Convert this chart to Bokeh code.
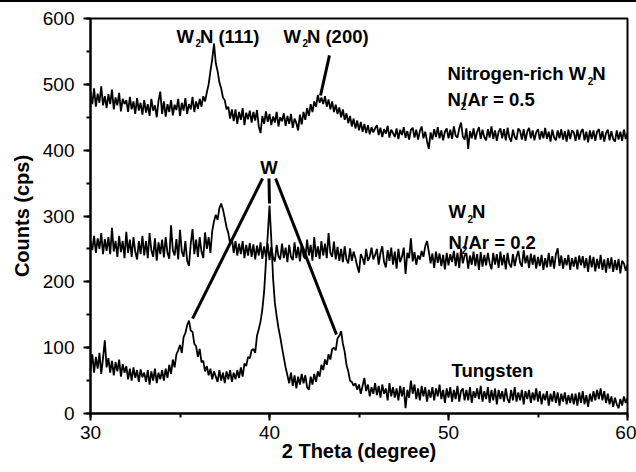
from bokeh.plotting import figure
from bokeh.models import SingleIntervalTicker, Range1d, Div
from bokeh.layouts import column
from bokeh.embed import file_html
from bokeh.resources import INLINE
from bokeh.core.properties import value

# ---------------- data (step 0.1 degree) ----------------
two_theta = [round(30.0 + i * 0.1, 1) for i in range(301)]

nitrogen_rich_w2n = [
    488, 470, 494, 466, 486, 472, 497, 468, 482, 464,
    485, 470, 492, 462, 480, 468, 487, 459, 478, 470,
    476, 458, 481, 462, 474, 455, 479, 460, 472, 454,
    476, 457, 470, 452, 478, 460, 468, 450, 475, 489,
    455, 474, 451, 470, 458, 476, 453, 469, 461, 478,
    452, 472, 460, 479, 455, 470, 462, 481, 458, 474,
    463, 478, 466, 482, 474, 488, 500, 520, 538, 562,
    532, 520, 503, 494, 480, 476, 462, 466, 448, 462,
    444, 462, 440, 458, 446, 464, 438, 457, 447, 460,
    442, 458, 445, 461, 436, 426, 452, 440, 459, 443,
    455, 438, 451, 442, 458, 436, 450, 444, 456, 437,
    452, 440, 455, 434, 448, 441, 430, 454, 439, 458,
    446, 464, 452, 470, 458, 474, 466, 484, 472, 480,
    470, 482, 466, 477, 462, 474, 458, 469, 455, 465,
    450, 462, 446, 456, 441, 452, 436, 448, 433, 445,
    430, 443, 428, 440, 426, 438, 424, 435, 427, 433,
    438, 423, 434, 420, 432, 425, 437, 419, 431, 426,
    420, 433, 417, 431, 423, 435, 419, 429, 416, 431,
    434, 419, 431, 416, 429, 436, 418, 428, 414, 402,
    427, 416, 432, 420, 435, 418, 430, 415, 428, 433,
    418, 431, 417, 436, 422, 419, 433, 442, 421, 416,
    433, 402, 429, 418, 433, 416, 428, 435, 417, 431,
    420, 415, 432, 419, 436, 417, 430, 414, 428, 433,
    418, 432, 415, 434, 419, 413, 431, 420, 416, 433,
    429, 416, 432, 414, 428, 434, 418, 430, 415, 427,
    432, 416, 429, 418, 434, 417, 428, 413, 431, 419,
    415, 430, 418, 432, 416, 429, 413, 431, 417, 430,
    427, 414, 431, 416, 428, 432, 415, 428, 412, 430,
    417, 430, 414, 428, 432, 416, 429, 413, 426, 431,
    415, 429, 417, 413, 430, 416, 428, 414, 431, 417,
    426,
]

w2n = [
    262, 248, 270, 244, 266, 250, 274, 242, 265, 247,
    268, 242, 282, 246, 262, 238, 270, 245, 262, 236,
    276, 244, 264, 238, 268, 246, 234, 262, 242, 270,
    240, 262, 236, 274, 248, 238, 266, 232, 260, 242,
    264, 237, 268, 244, 235, 286, 248, 240, 265, 234,
    279, 246, 238, 262, 232, 224, 258, 280, 242, 264,
    238, 268, 246, 236, 275, 250, 268, 244, 277, 292,
    302, 294, 312, 319, 310, 297, 283, 274, 258, 266,
    244, 262, 240, 258, 242, 262, 236, 256, 240, 259,
    238, 257, 234, 255, 240, 260, 235, 254, 238, 258,
    233, 253, 237, 231, 256, 239, 234, 258, 236, 252,
    230, 256, 238, 233, 260, 236, 253, 231, 258, 239,
    235, 264, 240, 256, 232, 268, 238, 254, 235, 262,
    240, 258, 236, 274, 244, 238, 261, 234, 253, 232,
    250, 230, 254, 234, 228, 251, 232, 246, 236, 224,
    214, 242, 236, 226, 250, 232, 238, 252, 234, 241,
    250, 226, 244, 254, 230, 222, 248, 232, 252, 226,
    246, 220, 250, 230, 238, 252, 212, 244, 236, 266,
    231, 245, 226, 240, 234, 247, 238, 254, 262, 246,
    228, 243, 221, 246, 229, 243, 224, 241, 219, 244,
    225, 242, 230, 247, 224, 244, 221, 250, 228, 240,
    243, 220, 240, 226, 246, 224, 242, 218, 245, 223,
    241, 225, 244, 228, 219, 244, 226, 242, 221, 246,
    225, 241, 219, 244, 227, 222, 242, 224, 238, 247,
    229, 223, 248, 228, 240, 221, 243, 226, 241, 220,
    238, 224, 241, 218, 236, 222, 244, 223, 239, 220,
    242, 251, 224, 240, 220, 236, 225, 241, 218, 236,
    223, 238, 219, 240, 225, 239, 221, 236, 215, 240,
    222, 238, 216, 235, 220, 241, 218, 234, 214, 236,
    220, 237, 215, 233, 218, 235, 213, 232, 228, 217,
    226,
]

tungsten = [
    66, 90, 62, 86, 68, 92, 60, 84, 111, 70,
    84, 62, 80, 58, 78, 64, 82, 56, 75, 62,
    72, 52, 68, 50, 70, 54, 66, 48, 67, 55,
    62, 48, 66, 44, 64, 50, 68, 46, 62, 52,
    66, 50, 68, 54, 74, 60, 82, 70, 90, 96,
    104, 92, 116, 122, 134, 141, 126, 124, 106, 102,
    86, 98, 78, 80, 64, 72, 58, 68, 52, 64,
    56, 48, 66, 50, 62, 46, 64, 52, 66, 48,
    62, 52, 66, 54, 70, 56, 76, 72, 86, 84,
    96, 98, 92, 118, 128, 140, 158, 185, 230, 270,
    316, 265, 205, 168, 148, 130, 116, 100, 85, 70,
    58, 46, 62, 42, 58, 38, 56, 44, 60, 46,
    58, 40, 36, 56, 44, 60, 48, 64, 56, 74,
    66, 82, 74, 90, 82, 98, 100, 96, 114, 118,
    125, 106, 94, 74, 64, 50, 48, 42, 46, 36,
    44, 30, 42, 54, 34, 44, 26, 40, 30, 46,
    28, 42, 24, 44, 30, 38, 20, 46, 26, 40,
    24, 38, 20, 42, 26, 40, 8, 36, 24, 50,
    30, 44, 22, 38, 20, 42, 26, 40, 18, 36,
    24, 40, 20, 38, 26, 44, 22, 36, 16, 38,
    24, 40, 18, 36, 22, 42, 18, 34, 38, 20,
    36, 20, 40, 16, 34, 24, 38, 22, 42, 18,
    34, 22, 40, 16, 36, 20, 38, 14, 36, 22,
    34, 18, 38, 22, 16, 36, 20, 40, 18, 32,
    20, 36, 14, 34, 22, 36, 16, 32, 20, 38,
    18, 34, 14, 30, 20, 34, 12, 30, 18, 34,
    16, 32, 12, 30, 18, 32, 14, 28, 16, 30,
    14, 30, 12, 32, 16, 34, 14, 28, 10, 30,
    18, 34, 20, 36, 22, 38, 20, 34, 16, 30,
    14, 26, 10, 24, 14, 8, 22, 12, 26, 16,
    24,
]

x_ticks_interval = 10
y_ticks_interval = 100

# ---------------- figure ----------------
FONT = "Liberation Sans"

p = figure(width=636, height=470, x_range=Range1d(30, 60), y_range=Range1d(0, 600),
           output_backend="svg", toolbar_location=None,
           min_border_left=90, min_border_right=9, min_border_top=16, min_border_bottom=59)
p.grid.visible = False
p.background_fill_color = "white"
p.border_fill_color = "white"
p.outline_line_color = "black"
p.outline_line_width = 2

p.xaxis.ticker = SingleIntervalTicker(interval=x_ticks_interval, num_minor_ticks=2)
p.yaxis.ticker = SingleIntervalTicker(interval=y_ticks_interval, num_minor_ticks=2)
p.xaxis.axis_label = "2 Theta (degree)"
p.yaxis.axis_label = "Counts (cps)"

for ax in (p.xaxis[0], p.yaxis[0]):
    ax.axis_line_width = 2
    ax.axis_line_color = "black"
    ax.major_tick_line_width = 2
    ax.minor_tick_line_width = 2
    ax.major_tick_line_color = "black"
    ax.minor_tick_line_color = "black"
    ax.major_tick_out = 7
    ax.major_tick_in = 0
    ax.minor_tick_out = 4
    ax.minor_tick_in = 0
    ax.major_label_text_font = FONT
    ax.major_label_text_font_size = "19px"
    ax.major_label_text_color = "black"
    ax.axis_label_text_font = FONT
    ax.axis_label_text_font_style = "bold"
    ax.axis_label_text_font_size = "20px"
    ax.axis_label_text_color = "black"

p.xaxis.major_label_standoff = 5
p.xaxis.axis_label_standoff = -2
p.yaxis.major_label_standoff = 9
p.yaxis.axis_label_standoff = 7

# ---------------- traces ----------------
for series in (tungsten, w2n, nitrogen_rich_w2n):
    p.line(two_theta, series, line_color="black", line_width=1.8)

# ---------------- pointer lines ----------------
p.segment(x0=[39.61, 39.97, 40.34, 43.35], y0=[357, 357, 357, 544],
          x1=[35.70, 40.00, 43.74, 42.85], y1=[144, 319, 120, 483],
          line_color="black", line_width=3)

# ---------------- annotations with subscripts ----------------
BOLD_W = {'N': 722, 'i': 278, 't': 333, 'r': 389, 'o': 611, 'g': 611, 'e': 556,
          'n': 611, '-': 333, 'c': 556, 'h': 611, ' ': 278, 'W': 944, '/': 278,
          'A': 722, '=': 584, '0': 556, '.': 278, '5': 556, '2': 556, '(': 333,
          ')': 333, '1': 556, 'T': 611, 'u': 611, 's': 556}

def tw(s, size):
    return sum(BOLD_W[c] for c in s) / 1000.0 * size

MAIN = 18.5
SUB = 10
LIFT = -6  # pixels

def put(x, y, txt, off=0.0, size=MAIN, drop=0, align="left"):
    p.text(x=[x], y=[y], text=[txt], x_offset=off, y_offset=drop + LIFT,
           text_font=value(FONT), text_font_style="bold",
           text_font_size=f"{size}px", text_baseline="alphabetic",
           text_align=align, text_color="black")

def sub_label(x, y, before, after, sub_gap=1.0, after_gap=5.5):
    w = tw(before, MAIN)
    put(x, y, before)
    put(x, y, "2", off=w + sub_gap, size=SUB, drop=7)
    put(x, y, after, off=w + after_gap)

sub_label(34.80, 563.6, "W", "N (111)", sub_gap=1.5, after_gap=6.0)
sub_label(40.78, 563.6, "W", "N (200)", sub_gap=1.5, after_gap=6.0)
sub_label(49.94, 507.0, "Nitrogen-rich W", "N", sub_gap=1.5, after_gap=6.0)
sub_label(49.94, 468.0, "N", "/Ar = 0.5", sub_gap=0.0, after_gap=1.5)
put(39.97, 364.6, "W", align="center")
sub_label(50.00, 297.7, "W", "N", sub_gap=1.5, after_gap=6.0)
sub_label(50.00, 250.6, "N", "/Ar = 0.2", sub_gap=0.0, after_gap=1.5)
put(50.17, 56.2, "Tungsten")

top_rule = Div(width=636, height=2, margin=0, styles={"background-color": "black"})
layout = column(top_rule, p, spacing=0)

open("out.html", "w").write(file_html(layout, INLINE))
